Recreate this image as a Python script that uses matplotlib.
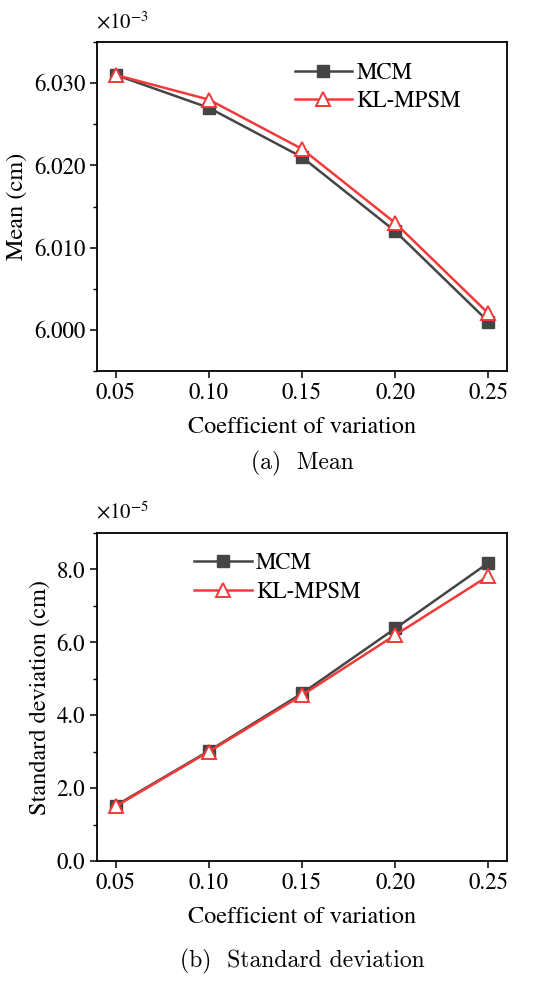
import matplotlib
matplotlib.use("Agg")
import matplotlib.pyplot as plt
from matplotlib.ticker import MultipleLocator, FormatStrFormatter

plt.rcParams['font.family'] = ['STIXGeneral', 'Liberation Serif', 'DejaVu Serif']
plt.rcParams['mathtext.fontset'] = 'stix'

cov = [0.05, 0.10, 0.15, 0.20, 0.25]
mean_mcm = [6.031, 6.027, 6.021, 6.012, 6.001]
mean_kl = [6.031, 6.028, 6.022, 6.013, 6.002]
sd_mcm = [1.52, 3.02, 4.60, 6.38, 8.18]
sd_kl = [1.50, 3.00, 4.55, 6.20, 7.82]
x_ticks = [0.05, 0.10, 0.15, 0.20, 0.25]

C_MCM = '#454545'
C_KL = '#f23a3a'
FS_TICK = 16.5
FS_LAB = 17.5
FS_LEG = 16.5

fig = plt.figure(figsize=(5.34, 9.88), dpi=100)
W, H = 534, 988

def make_ax(top, bottom):
    return fig.add_axes([97 / W, (H - bottom) / H, 410 / W, (bottom - top) / H])

ax1 = make_ax(42, 371)
ax2 = make_ax(533, 861)

def style(ax):
    for s in ax.spines.values():
        s.set_linewidth(1.3)
    ax.tick_params(axis='both', which='major', direction='out', length=5, width=1.1,
                   labelsize=FS_TICK, top=False, right=False)
    ax.tick_params(axis='both', which='minor', direction='out', length=3, width=1.0,
                   top=False, right=False)
    ax.set_xlim(0.04, 0.26)
    ax.set_xticks(x_ticks)
    ax.xaxis.set_major_formatter(FormatStrFormatter('%.2f'))
    ax.set_xlabel('Coefficient of variation', fontsize=FS_LAB, labelpad=9)

def plot_series(ax, y1, y2):
    ax.plot(cov, y1, color=C_MCM, lw=1.8, marker='s', ms=8, mfc=C_MCM, mec=C_MCM,
            label='MCM', zorder=3)
    ax.plot(cov, y2, color=C_KL, lw=1.8, marker='^', ms=10, mfc='white', mec=C_KL,
            mew=1.4, label='KL-MPSM', zorder=4)

# Panel (a)
plot_series(ax1, mean_mcm, mean_kl)
style(ax1)
ax1.set_ylim(5.995, 6.035)
ax1.yaxis.set_major_locator(MultipleLocator(0.01))
ax1.yaxis.set_minor_locator(MultipleLocator(0.005))
ax1.yaxis.set_major_formatter(FormatStrFormatter('%.3f'))
ax1.set_ylabel('Mean (cm)', fontsize=FS_LAB, labelpad=4)
ax1.legend(loc='upper left', bbox_to_anchor=(0.46, 0.965), frameon=False, fontsize=FS_LEG,
           handlelength=2.5, handletextpad=0.2, labelspacing=0.3, borderaxespad=0)
fig.text(96 / W, (H - 23) / H, r'$\times$10$^{\mathregular{-3}}$', fontsize=15,
         ha='left', va='center')
fig.text(0.5 * (97 + 507) / W, (H - 463) / H, '(a)  Mean', fontsize=17,
         family='cmr10', ha='center', va='center')

# Panel (b)
plot_series(ax2, sd_mcm, sd_kl)
style(ax2)
ax2.set_ylim(0, 9)
ax2.yaxis.set_major_locator(MultipleLocator(2))
ax2.yaxis.set_minor_locator(MultipleLocator(1))
ax2.yaxis.set_major_formatter(FormatStrFormatter('%.1f'))
ax2.set_ylabel('Standard deviation (cm)', fontsize=FS_LAB, labelpad=4)
ax2.legend(loc='upper left', bbox_to_anchor=(0.215, 0.967), frameon=False, fontsize=FS_LEG,
           handlelength=2.5, handletextpad=0.2, labelspacing=0.3, borderaxespad=0)
fig.text(96 / W, (H - 513) / H, r'$\times$10$^{\mathregular{-5}}$', fontsize=15,
         ha='left', va='center')
fig.text(0.5 * (97 + 507) / W, (H - 961) / H, '(b)  Standard deviation', fontsize=17,
         family='cmr10', ha='center', va='center')

fig.savefig('out.png', dpi=100)
